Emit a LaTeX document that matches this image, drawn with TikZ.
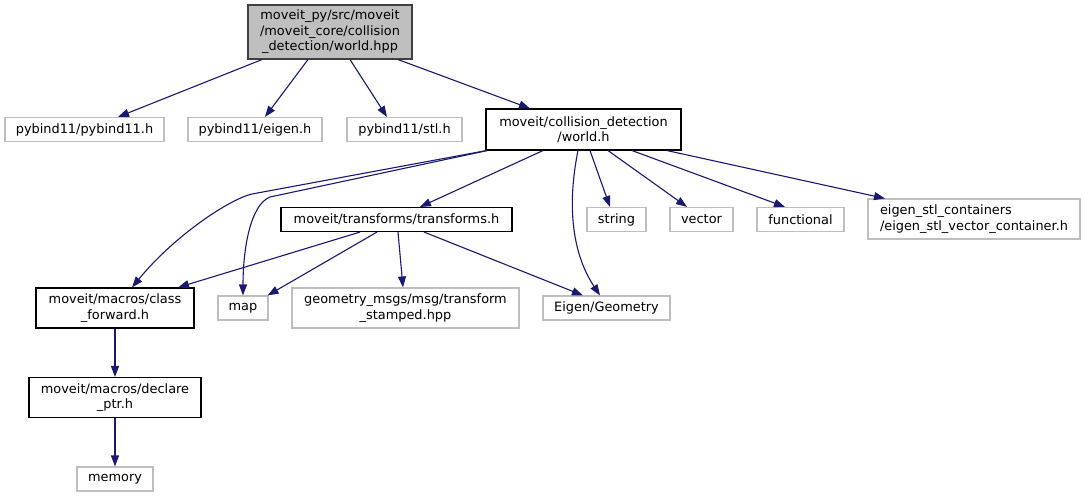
\documentclass[tikz,border=0pt]{standalone}
\usepackage{fontspec}
\setmainfont{DejaVu Sans}
\usetikzlibrary{arrows.meta}
\definecolor{edgec}{HTML}{191970}
\definecolor{grayb}{HTML}{BFBFBF}
\definecolor{topfill}{HTML}{BFBFBF}
\definecolor{topb}{HTML}{404040}
\begin{document}
\begin{tikzpicture}[x=1pt,y=-1pt,
  every node/.style={font=\fontsize{12.9}{15.5}\selectfont, inner sep=0pt, align=center, line width=1.1pt},
  topn/.style={draw=topb, fill=topfill},
  blk/.style={draw=black},
  gry/.style={draw=grayb},
  edge/.style={draw=edgec, line width=1.1pt, -{Triangle[length=11pt,width=8pt]}}
]
\useasboundingbox[fill=white] (0,0) rectangle (1085,499);

\node[topn, minimum width=164, minimum height=54] (top) at (330,32) {moveit\_py/src/moveit\\/moveit\_core/collision\\\_detection/world.hpp};
\node[gry, minimum width=159, minimum height=24] (pyb) at (84.5,129.5) {pybind11/pybind11.h};
\node[gry, minimum width=134, minimum height=24] (eig) at (255,129.5) {pybind11/eigen.h};
\node[gry, minimum width=115, minimum height=24] (stl) at (404.5,129.5) {pybind11/stl.h};
\node[blk, minimum width=195, minimum height=41] (world) at (583.5,129.5) {moveit/collision\_detection\\/world.h};
\node[blk, minimum width=231, minimum height=24] (tr) at (396.5,219.5) {moveit/transforms/transforms.h};
\node[gry, minimum width=59, minimum height=24] (str) at (616.5,219.5) {string};
\node[gry, minimum width=63, minimum height=24] (vec) at (701.5,219.5) {vector};
\node[gry, minimum width=87, minimum height=24] (fun) at (800.5,219.5) {functional};
\node[gry, minimum width=212, minimum height=40, align=left] (es) at (974,219) {eigen\_stl\_containers\\/eigen\_stl\_vector\_container.h};
\node[blk, minimum width=158, minimum height=40] (cf) at (115,308) {moveit/macros/class\\\_forward.h};
\node[gry, minimum width=50, minimum height=24] (map) at (243,308) {map};
\node[gry, minimum width=227, minimum height=40] (geo) at (405.5,308) {geometry\_msgs/msg/transform\\\_stamped.hpp};
\node[gry, minimum width=127, minimum height=24] (eg) at (606.5,308) {Eigen/Geometry};
\node[blk, minimum width=172, minimum height=40] (dp) at (115,397.5) {moveit/macros/declare\\\_ptr.h};
\node[gry, minimum width=76, minimum height=24] (mem) at (115,479) {memory};

\draw[edge] ([xshift=-68]top.south) -- ([xshift=33.5]pyb.north);
\draw[edge] ([xshift=-22]top.south) -- ([xshift=10]eig.north);
\draw[edge] ([xshift=20]top.south) -- ([xshift=-17.5]stl.north);
\draw[edge] ([xshift=68]top.south) -- ([xshift=-53.5]world.north);

\draw[edge] ([xshift=1]world.south west) -- (252,194) .. controls (230,199) and (175,235) .. ([xshift=17]cf.north);
\draw[edge] ([xshift=2]world.south west) -- (270,197) .. controls (250,205) and (243,250) .. (map.north);
\draw[edge] ([xshift=-40.5]world.south) -- ([xshift=23.5]tr.north);
\draw[edge] ([xshift=-5.5]world.south) .. controls (568,200) and (570,250) .. ([xshift=-6.5]eg.north);
\draw[edge] ([xshift=6.5]world.south) -- ([xshift=-6.5]str.north);
\draw[edge] ([xshift=24.5]world.south) -- ([xshift=-14.5]vec.north);
\draw[edge] ([xshift=48.5]world.south) -- ([xshift=-15.5]fun.north);
\draw[edge] ([xshift=83.5]world.south) -- ([xshift=-89]es.north);

\draw[edge] ([xshift=-36.5]tr.south) -- ([xshift=63]cf.north);
\draw[edge] ([xshift=-19.5]tr.south) -- ([xshift=-1]map.north east);
\draw[edge] ([xshift=1.5]tr.south) -- ([xshift=-2.5]geo.north);
\draw[edge] ([xshift=27.5]tr.south) -- ([xshift=-23.5]eg.north);

\draw[edge] (cf.south) -- (dp.north);
\draw[edge] (dp.south) -- (mem.north);
\end{tikzpicture}
\end{document}
